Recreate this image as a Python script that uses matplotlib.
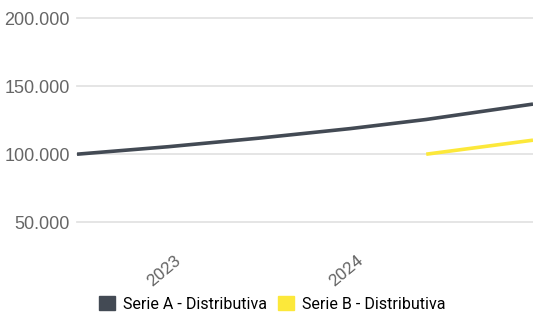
import numpy as np
import pandas as pd
import matplotlib
matplotlib.use("Agg")
import matplotlib.pyplot as plt
import matplotlib.dates as mdates
from matplotlib.patches import Patch

# data
dates_a = pd.to_datetime(["2022-06-01", "2022-12-01", "2023-06-01",
                          "2023-12-01", "2024-05-01", "2024-12-01"])
serie_a = [100000, 105500, 111800, 118800, 125500, 136800]
dates_b = pd.to_datetime(["2024-05-01", "2024-12-01"])
serie_b = [100000, 110300]
y_ticks = [50000, 100000, 150000, 200000]
names = ["Serie A - Distributiva", "Serie B - Distributiva"]
colors = ["#434a54", "#fce83a"]

fig = plt.figure(figsize=(5.33, 3.14), dpi=100)
ax = fig.add_axes([77 / 533, 1 - 240 / 314, 1 - 77 / 533, (240 - 18) / 314])

ax.plot(dates_a, serie_a, color=colors[0], lw=2.6, solid_capstyle="butt")
ax.plot(dates_b, serie_b, color=colors[1], lw=2.6, solid_capstyle="butt")

ax.set_xlim(dates_a[0], dates_a[-1])
ax.set_ylim(37000, 200000)
ax.set_yticks(y_ticks)
ax.set_yticklabels(["{:,}".format(v).replace(",", ".") for v in y_ticks],
                   fontsize=13, color="#666666", family="Liberation Sans")
ax.grid(axis="y", color="#e3e3e3", lw=1.3)
for gl in ax.get_ygridlines():
    gl.set_clip_on(False)
ax.set_axisbelow(True)

ax.xaxis.set_major_locator(mdates.YearLocator())
ax.xaxis.set_major_formatter(mdates.DateFormatter("%Y"))
for lbl in ax.get_xticklabels():
    lbl.set_rotation(40)
    lbl.set_ha("right")
    lbl.set_va("top")
    lbl.set_fontsize(12.5)
    lbl.set_color("#666666")
    lbl.set_family("Roboto")

ax.tick_params(length=0, pad=5)
ax.tick_params(axis="x", pad=9)
for s in ax.spines.values():
    s.set_visible(False)

handles = [Patch(color=c) for c in colors]
fig.legend(handles, names, loc="center", bbox_to_anchor=(272 / 533, 1 - 304 / 314),
           ncol=2, frameon=False, prop={"family": "Roboto", "size": 11.5},
           handlelength=1.0, handleheight=1.0, handletextpad=0.5,
           columnspacing=0.7, borderpad=0)

fig.savefig("out.png", dpi=100)
